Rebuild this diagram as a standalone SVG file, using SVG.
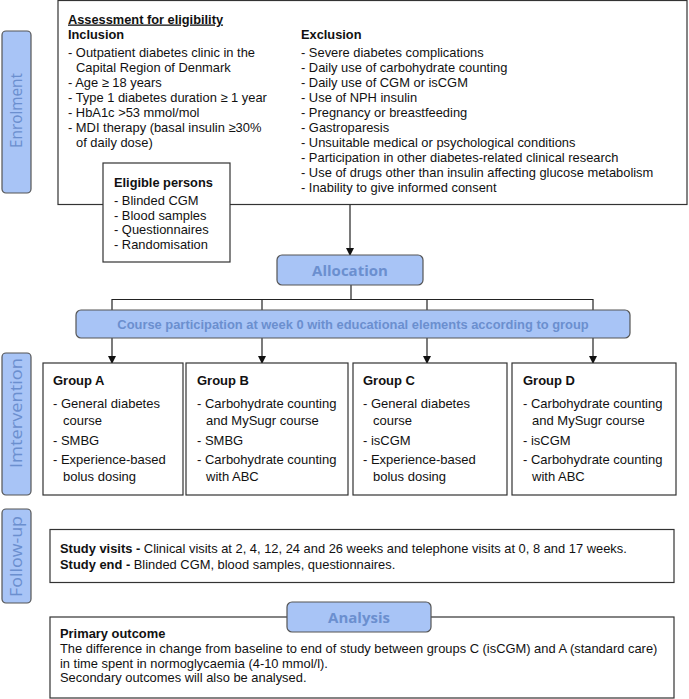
<svg xmlns="http://www.w3.org/2000/svg" width="689" height="699" viewBox="0 0 689 699">
<style>
.box{fill:#fff;stroke:#333;stroke-width:1.2}
.pill{fill:#a8c4f6;stroke:#555;stroke-width:1.2}
.ptxt{font-family:"Open Sans","DejaVu Sans",sans-serif;fill:#6b8fcf;font-size:16px}
.t{font-family:"Liberation Sans",Arial,sans-serif;font-size:12.9px;fill:#111}
.h{font-family:"Liberation Sans",Arial,sans-serif;font-size:12.8px;font-weight:bold;fill:#111}
.b{font-weight:bold}
.g{font-family:"Liberation Sans",Arial,sans-serif;font-size:13px;fill:#111}
.ln{fill:none;stroke:#222;stroke-width:1.2}
</style>
<defs>
<marker id="ah" markerWidth="8" markerHeight="8" refX="7" refY="4" orient="auto" markerUnits="userSpaceOnUse">
<path d="M0,0 L8,4 L0,8 z" fill="#111"/>
</marker>
</defs>
<rect width="689" height="699" fill="#fff"/>

<g id="stage-enrolment">
<rect class="pill" x="2" y="31" width="29" height="162" rx="4"/>
<text class="ptxt" transform="translate(22,110.5) rotate(-90)" text-anchor="middle" textLength="75" lengthAdjust="spacingAndGlyphs">Enrolment</text>
</g>
<g id="stage-intervention">
<rect class="pill" x="2" y="353" width="29" height="142" rx="4"/>
<text class="ptxt" transform="translate(22,413) rotate(-90)" text-anchor="middle" textLength="110" lengthAdjust="spacingAndGlyphs">Imtervention</text>
</g>
<g id="stage-followup">
<rect class="pill" x="2" y="509" width="29" height="94" rx="4"/>
<text class="ptxt" transform="translate(22,556.5) rotate(-90)" text-anchor="middle" textLength="81" lengthAdjust="spacingAndGlyphs">Follow-up</text>
</g>

<g id="connectors">
<line class="ln" x1="350" y1="205" x2="350" y2="255" marker-end="url(#ah)"/>
<polyline class="ln" points="351,285 351,299.5"/>
<polyline class="ln" points="112,310 112,299.5 593,299.5 593,310"/>
<line class="ln" x1="262" y1="299.5" x2="262" y2="310"/>
<line class="ln" x1="427" y1="299.5" x2="427" y2="310"/>
<line class="ln" x1="112" y1="338" x2="112" y2="363" marker-end="url(#ah)"/>
<line class="ln" x1="262" y1="338" x2="262" y2="363" marker-end="url(#ah)"/>
<line class="ln" x1="427" y1="338" x2="427" y2="363" marker-end="url(#ah)"/>
<line class="ln" x1="593" y1="338" x2="593" y2="363" marker-end="url(#ah)"/>
</g>

<g id="eligibility">
<rect class="box" x="58" y="0.5" width="629" height="204"/>
<text class="h" x="68" y="23.5" style="text-decoration:underline">Assessment for eligibility</text>
<text class="h" x="68" y="39">Inclusion</text>
<text class="t" x="68" y="57">- Outpatient diabetes clinic in the</text>
<text class="t" x="76" y="72">Capital Region of Denmark</text>
<text class="t" x="68" y="87">- Age ≥ 18 years</text>
<text class="t" x="68" y="102">- Type 1 diabetes duration ≥ 1 year</text>
<text class="t" x="68" y="117">- HbA1c &gt;53 mmol/mol</text>
<text class="t" x="68" y="132">- MDI therapy (basal insulin ≥30%</text>
<text class="t" x="76" y="147">of daily dose)</text>
<text class="h" x="301" y="39">Exclusion</text>
<text class="t" x="301" y="57">- Severe diabetes complications</text>
<text class="t" x="301" y="72">- Daily use of carbohydrate counting</text>
<text class="t" x="301" y="87">- Daily use of CGM or isCGM</text>
<text class="t" x="301" y="102">- Use of NPH insulin</text>
<text class="t" x="301" y="117">- Pregnancy or breastfeeding</text>
<text class="t" x="301" y="132">- Gastroparesis</text>
<text class="t" x="301" y="147">- Unsuitable medical or psychological conditions</text>
<text class="t" x="301" y="162">- Participation in other diabetes-related clinical research</text>
<text class="t" x="301" y="177">- Use of drugs other than insulin affecting glucose metabolism</text>
<text class="t" x="301" y="192">- Inability to give informed consent</text>
</g>

<g id="eligible-persons">
<rect class="box" x="103" y="163" width="127" height="99"/>
<text class="h" x="114" y="187">Eligible persons</text>
<text class="t" x="114" y="205">- Blinded CGM</text>
<text class="t" x="114" y="219.5">- Blood samples</text>
<text class="t" x="114" y="234">- Questionnaires</text>
<text class="t" x="114" y="248.5">- Randomisation</text>
</g>

<g id="allocation">
<rect class="pill" x="277" y="255" width="146" height="30" rx="5"/>
<text class="ptxt b" x="350" y="276" text-anchor="middle" style="font-size:15px">Allocation</text>
</g>

<g id="course">
<rect class="pill" x="76" y="310" width="554" height="28" rx="5"/>
<text x="353" y="328.5" text-anchor="middle" style="font-family:'Liberation Sans',Arial,sans-serif;font-weight:bold;font-size:12.9px;fill:#6b8fcf">Course participation at week 0 with educational elements according to group</text>
</g>

<g id="group-a">
<rect class="box" x="43" y="363" width="140" height="132"/>
<text class="g b" x="53" y="385">Group A</text>
<text class="g" x="53" y="408">- General diabetes</text>
<text class="g" x="63" y="425">course</text>
<text class="g" x="53" y="444.5">- SMBG</text>
<text class="g" x="53" y="464">- Experience-based</text>
<text class="g" x="63" y="481">bolus dosing</text>
</g>
<g id="group-b">
<rect class="box" x="186" y="363" width="162" height="132"/>
<text class="g b" x="197" y="385">Group B</text>
<text class="g" x="197" y="408">- Carbohydrate counting</text>
<text class="g" x="206" y="425">and MySugr course</text>
<text class="g" x="197" y="444.5">- SMBG</text>
<text class="g" x="197" y="464">- Carbohydrate counting</text>
<text class="g" x="206" y="481">with ABC</text>
</g>
<g id="group-c">
<rect class="box" x="353" y="363" width="154" height="132"/>
<text class="g b" x="363" y="385">Group C</text>
<text class="g" x="363" y="408">- General diabetes</text>
<text class="g" x="373" y="425">course</text>
<text class="g" x="363" y="444.5">- isCGM</text>
<text class="g" x="363" y="464">- Experience-based</text>
<text class="g" x="373" y="481">bolus dosing</text>
</g>
<g id="group-d">
<rect class="box" x="512" y="363" width="164" height="132"/>
<text class="g b" x="523" y="385">Group D</text>
<text class="g" x="523" y="408">- Carbohydrate counting</text>
<text class="g" x="532" y="425">and MySugr course</text>
<text class="g" x="523" y="444.5">- isCGM</text>
<text class="g" x="523" y="464">- Carbohydrate counting</text>
<text class="g" x="532" y="481">with ABC</text>
</g>

<g id="followup">
<rect class="box" x="50" y="529.5" width="624" height="53"/>
<text class="t" x="60" y="553"><tspan class="b">Study visits -</tspan> Clinical visits at 2, 4, 12, 24 and 26 weeks and telephone visits at 0, 8 and 17 weeks.</text>
<text class="t" x="60" y="569"><tspan class="b">Study end -</tspan> Blinded CGM, blood samples, questionnaires.</text>
</g>

<g id="analysis">
<rect class="box" x="50" y="617" width="624" height="81"/>
<rect class="pill" x="287" y="602" width="144" height="30" rx="5"/>
<text class="ptxt b" x="359" y="622.5" text-anchor="middle" style="font-size:15px">Analysis</text>
<text class="t b" x="60" y="638">Primary outcome</text>
<text class="t" x="60" y="653">The difference in change from baseline to end of study between groups C (isCGM) and A (standard care)</text>
<text class="t" x="60" y="667.5">in time spent in normoglycaemia (4-10 mmol/l).</text>
<text class="t" x="60" y="682">Secondary outcomes will also be analysed.</text>
</g>
</svg>
